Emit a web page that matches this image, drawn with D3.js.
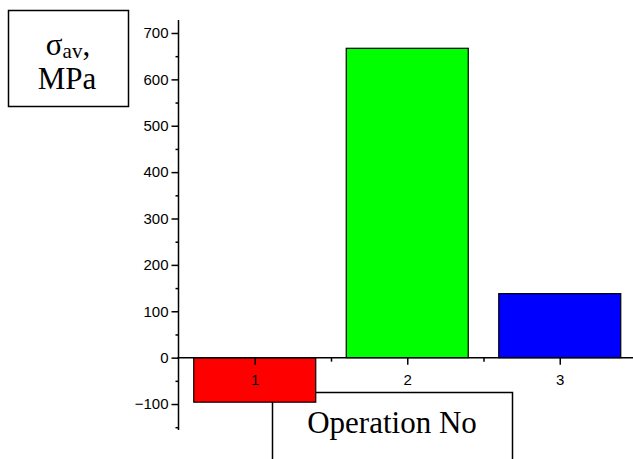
<!DOCTYPE html>
<html>
<head>
<meta charset="utf-8">
<script src="https://cdn.jsdelivr.net/npm/d3@7"></script>
<style>
  html, body { margin: 0; padding: 0; background: #fff; }
  svg { display: block; }
</style>
</head>
<body>
<svg id="chart" width="633" height="459"></svg>
<script>
// Average stress per operation
const operations = [1, 2, 3];
const stressValues = [-96, 667, 138];
const barColors = ["#ff0000", "#00ff00", "#0000ff"];
const yMajorTicks = [-100, 0, 100, 200, 300, 400, 500, 600, 700];
const yMinorTicks = [-150, -50, 50, 150, 250, 350, 450, 550, 650];
const xMinorTicks = [1.5, 2.5];

const svg = d3.select("#chart");

const x = d3.scaleLinear().domain([0.5, 3.5]).range([178.5, 636]);
const y = d3.scaleLinear().domain([-156, 728]).range([430, 20]);
const barWidth = x(0.8) - x(0);

const serif = "'Liberation Serif', 'Times New Roman', serif";
const sans = "'Liberation Sans', Arial, sans-serif";

// Y-axis title box
const yTitle = svg.append("g");
yTitle.append("rect")
  .attr("x", 8.5).attr("y", 10.5).attr("width", 120).attr("height", 96)
  .attr("fill", "#fff").attr("stroke", "#000").attr("stroke-width", 1.5);
const sigma = yTitle.append("text")
  .attr("x", 68).attr("y", 55)
  .attr("text-anchor", "middle")
  .attr("font-family", serif).attr("font-size", 31);
sigma.append("tspan").text("σ");
sigma.append("tspan").attr("font-size", 21).attr("dy", 3).text("av");
sigma.append("tspan").attr("dy", -3).text(",");
yTitle.append("text")
  .attr("x", 67).attr("y", 89)
  .attr("text-anchor", "middle")
  .attr("font-family", serif).attr("font-size", 31)
  .text("MPa");

// X-axis title box (open at the bottom edge of the page)
const xTitle = svg.append("g");
xTitle.append("rect")
  .attr("x", 272.5).attr("y", 392.5).attr("width", 240).attr("height", 90)
  .attr("fill", "#fff").attr("stroke", "#000").attr("stroke-width", 1.5);
xTitle.append("text")
  .attr("x", 392).attr("y", 433)
  .attr("text-anchor", "middle")
  .attr("font-family", serif).attr("font-size", 31)
  .text("Operation No");

// Bars
svg.append("g").selectAll("rect")
  .data(operations)
  .join("rect")
  .attr("x", (d) => x(d) - barWidth / 2)
  .attr("width", barWidth)
  .attr("y", (d, i) => y(Math.max(0, stressValues[i])))
  .attr("height", (d, i) => Math.abs(y(stressValues[i]) - y(0)))
  .attr("fill", (d, i) => barColors[i])
  .attr("stroke", "#000")
  .attr("stroke-width", 1.2);

// Y axis
const yAxis = svg.append("g")
  .attr("transform", `translate(${x(0.5)},0)`)
  .call(d3.axisLeft(y).tickValues(yMajorTicks).tickSize(7).tickPadding(3).tickFormat(d3.format("d")));
yAxis.select(".domain").remove();
yAxis.selectAll("line").attr("stroke-width", 1.5);
yAxis.selectAll("text").attr("font-family", sans).attr("font-size", 15).attr("fill", "#000");

const yMinor = svg.append("g")
  .attr("transform", `translate(${x(0.5)},0)`)
  .call(d3.axisLeft(y).tickValues(yMinorTicks).tickSize(3).tickFormat(""));
yMinor.select(".domain").remove();
yMinor.selectAll("line").attr("stroke-width", 1.5);

svg.append("line")
  .attr("x1", x(0.5)).attr("x2", x(0.5))
  .attr("y1", y.range()[1]).attr("y2", y.range()[0])
  .attr("stroke", "#000").attr("stroke-width", 1.5);

// X axis along zero
const xAxis = svg.append("g")
  .attr("transform", `translate(0,${y(0)})`)
  .call(d3.axisBottom(x).tickValues(operations).tickSize(7).tickPadding(10).tickFormat(d3.format("d")));
xAxis.select(".domain").remove();
xAxis.selectAll("line").attr("stroke-width", 1.5);
xAxis.selectAll("text").attr("font-family", sans).attr("font-size", 15).attr("fill", "#000");

const xMinor = svg.append("g")
  .attr("transform", `translate(0,${y(0)})`)
  .call(d3.axisBottom(x).tickValues(xMinorTicks).tickSize(4).tickFormat(""));
xMinor.select(".domain").remove();
xMinor.selectAll("line").attr("stroke-width", 1.5);

svg.append("line")
  .attr("x1", x(0.5) - 1).attr("x2", x(3.5))
  .attr("y1", y(0)).attr("y2", y(0))
  .attr("stroke", "#000").attr("stroke-width", 1.5);
</script>
</body>
</html>
